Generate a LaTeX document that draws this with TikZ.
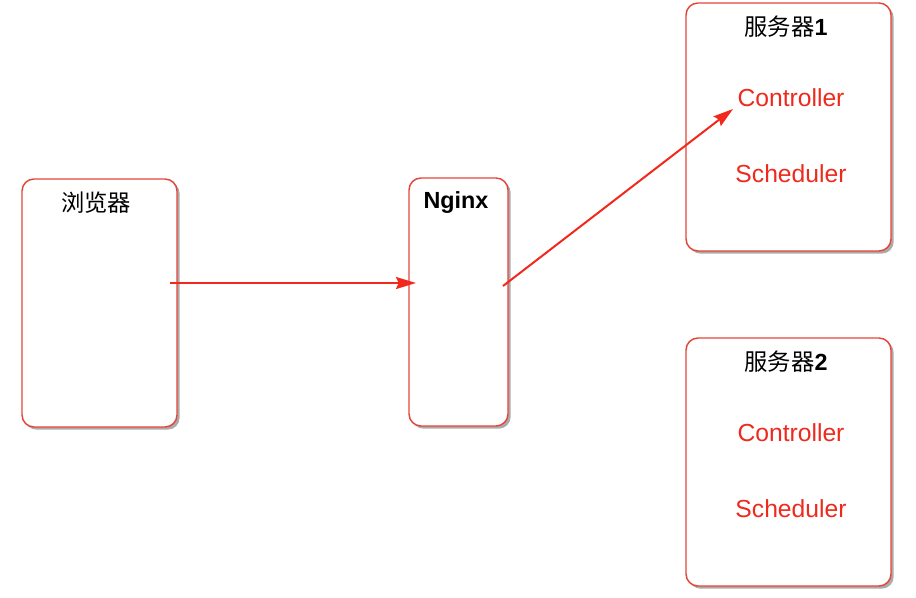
\documentclass[tikz,border=0pt]{standalone}
\usepackage{fontspec}
\setmainfont{Liberation Sans}
\newfontfamily\cjk{Noto Sans CJK SC}
\usetikzlibrary{shadows,arrows.meta}
\definecolor{boxred}{HTML}{E2463A}
\definecolor{arrred}{HTML}{F2281C}
\definecolor{lblred}{HTML}{EE2A1E}
\tikzset{
  box/.style={draw=boxred, line width=1.1pt, fill=white, rounded corners=9pt,
    minimum height=186pt, inner sep=0pt,
    drop shadow={shadow xshift=2pt, shadow yshift=-2pt, fill=black!60, opacity=0.55}},
  title/.style={font=\fontsize{17.5}{19}\selectfont, text=black, inner sep=0pt},
  lbl/.style={font=\fontsize{18.5}{20}\selectfont, text=lblred, inner sep=0pt},
  conn/.style={draw=arrred, line width=1.5pt, -{Stealth[length=15pt,width=9pt,inset=2pt]}}
}
\begin{document}
\begin{tikzpicture}[x=0.75pt,y=-0.75pt]
\useasboundingbox (0,0) rectangle (916,598);
\node[box, minimum width=116.25pt] (browser) at (99.5,303) {};
\node[box, minimum width=74.25pt] (nginx) at (458.5,302) {};
\node[box, minimum width=153.75pt] (s1) at (788.5,127) {};
\node[box, minimum width=153.75pt] (s2) at (788.5,462) {};

\node[title] (tb) at (96,203) {\cjk 浏览器};
\node[title] (tn) at (456,203) {\bfseries Nginx};
\node[title] (t1) at (786,27) {{\cjk 服务器}\textbf{1}};
\node[title] (t2) at (786,362) {{\cjk 服务器}\textbf{2}};

\node[lbl] (c1) at (791,98) {Controller};
\node[lbl] (sc1) at (791,174) {Scheduler};
\node[lbl] (c2) at (791,433) {Controller};
\node[lbl] (sc2) at (791,509) {Scheduler};

\coordinate (a1s) at (170,283);
\coordinate (a1e) at (416,283);
\coordinate (a2s) at (503,286);
\coordinate (a2e) at (733,109);
\draw[conn] (a1s) -- (a1e);
\draw[conn] (a2s) -- (a2e);
\end{tikzpicture}
\end{document}
